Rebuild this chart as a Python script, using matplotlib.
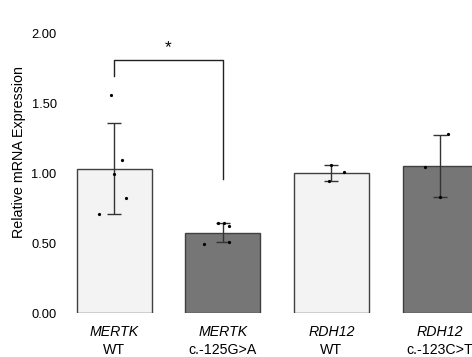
import matplotlib.pyplot as plt
from matplotlib.transforms import blended_transform_factory

plt.rcParams['font.family'] = ['Liberation Sans', 'DejaVu Sans']

genes = ['MERTK', 'MERTK', 'RDH12', 'RDH12']
variants = ['WT', 'c.-125G>A', 'WT', 'c.-123C>T']
means = [1.03, 0.57, 1.00, 1.05]
err_low = [0.71, 0.51, 0.94, 0.83]
err_high = [1.36, 0.64, 1.06, 1.27]
bar_colors = ['#f3f3f3', '#767676', '#f3f3f3', '#767676']

# individual replicate points: (x offset, value)
points = [
    [(-0.03, 1.56), (0.07, 1.09), (0.0, 0.99), (0.11, 0.82), (-0.14, 0.71)],
    [(-0.04, 0.64), (0.01, 0.64), (0.06, 0.62), (0.06, 0.51), (-0.17, 0.49)],
    [(0.12, 1.01), (-0.02, 0.94), (0.0, 1.06)],
    [(0.07, 1.28), (-0.14, 1.04), (0.0, 0.83)],
]

fig = plt.figure(figsize=(4.72, 3.57), dpi=100)
ax = fig.add_axes([62 / 472, 44 / 357, 410 / 472, 280 / 357])

x = list(range(len(means)))
ax.bar(x, means, width=0.69, color=bar_colors, edgecolor='#404040', linewidth=1.0, zorder=1)
for i in x:
    ax.errorbar(i, means[i], yerr=[[means[i] - err_low[i]], [err_high[i] - means[i]]],
                fmt='none', ecolor='#333333', elinewidth=1.0, capsize=5, capthick=1.0, zorder=2)
    px = [i + dx for dx, v in points[i]]
    py = [v for dx, v in points[i]]
    ax.plot(px, py, 'o', color='black', markersize=1.3, zorder=3, clip_on=False)

# significance bracket
ax.plot([0, 0, 1, 1], [1.69, 1.81, 1.81, 0.96], color='#222222', linewidth=1.0, clip_on=False)
ax.text(0.5, 1.84, '*', ha='center', va='bottom', fontsize=12.5)

ax.set_xlim(-0.48, 3.294)
ax.set_ylim(0, 2.0)
ax.set_yticks([0, 0.5, 1.0, 1.5, 2.0])
ax.set_yticklabels(['0.00', '0.50', '1.00', '1.50', '2.00'], fontsize=9.3)
ax.set_xticks([])
ax.tick_params(axis='y', length=0, pad=3.8)
for s in ax.spines.values():
    s.set_visible(False)
ax.set_ylabel('Relative mRNA Expression', fontsize=10.3)
ax.yaxis.set_label_coords(-0.088, 0.575)

trans = blended_transform_factory(ax.transData, fig.transFigure)
for i in x:
    ax.text(i, 1 - 332 / 357, genes[i], style='italic', ha='center', va='center',
            fontsize=10.2, transform=trans)
    ax.text(i, 1 - 349.5 / 357, variants[i], ha='center', va='center',
            fontsize=10.2, transform=trans)

fig.savefig('out.png', dpi=100)
